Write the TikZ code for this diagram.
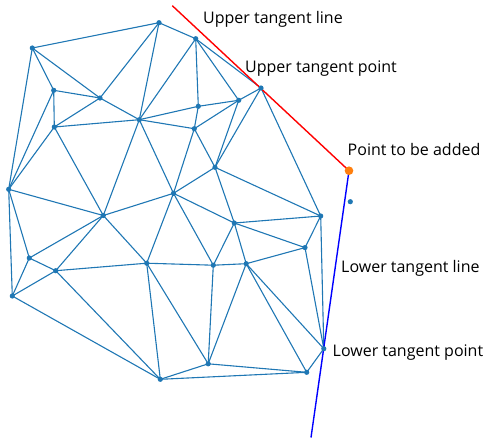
\documentclass[tikz,border=0pt]{standalone}
\usepackage{fontspec}
\setmainfont{Open Sans}
\usepackage{tikz}
\usetikzlibrary{positioning,calc}

\definecolor{meshblue}{HTML}{1F77B4}
\definecolor{addorange}{HTML}{FF7F0E}

\begin{document}
\begin{tikzpicture}[
        x=1pt, y=-1pt,
        font=\fontsize{16}{19}\selectfont,
        edge/.style={draw=meshblue, line width=1.1pt},
        tangent/.style={line width=1.4pt},
        label/.style={anchor=base west, inner sep=0pt}
    ]
        \useasboundingbox (0,0) rectangle (486,440);

        % mesh points
        \coordinate (a) at (159,22.7);
        \coordinate (b) at (32.3,48);
        \coordinate (c) at (195.7,38.7);
        \coordinate (d) at (53.7,90.3);
        \coordinate (e) at (100,98);
        \coordinate (f) at (54.3,127);
        \coordinate (g) at (139.3,119.7);
        \coordinate (h) at (198.3,106.3);
        \coordinate (i) at (238.7,100.3);
        \coordinate (j) at (194.3,128.7);
        \coordinate (k) at (8.7,189.3);
        \coordinate (l) at (215,167.3);
        \coordinate (m) at (173.5,193.3);
        \coordinate (n) at (103.3,215.5);
        \coordinate (up) at (261,88);
        \coordinate (s) at (320.7,216);
        \coordinate (t) at (234.3,223);
        \coordinate (u) at (29.3,258);
        \coordinate (v) at (55.7,270.7);
        \coordinate (w) at (146.7,263.2);
        \coordinate (x) at (213.3,265.2);
        \coordinate (y) at (246.2,263.7);
        \coordinate (z) at (12.3,296);
        \coordinate (o) at (305,247.6);
        \coordinate (low) at (323.8,348.7);
        \coordinate (aa) at (208.2,363.8);
        \coordinate (bb) at (160.3,379.3);
        \coordinate (cc) at (306.7,372.3);
        \coordinate (extra) at (350.3,201.7);
        \coordinate (new) at (349,170.7);
        \coordinate (upend) at (172.3,5.7);
        \coordinate (lowend) at (311,437.5);

        % triangulation
        \draw[edge] (a) -- (b); \draw[edge] (a) -- (c); \draw[edge] (a) -- (e); \draw[edge] (a) -- (g);
        \draw[edge] (b) -- (d); \draw[edge] (b) -- (e); \draw[edge] (b) -- (k);
        \draw[edge] (c) -- (g); \draw[edge] (c) -- (h); \draw[edge] (c) -- (i); \draw[edge] (c) -- (up);
        \draw[edge] (d) -- (e); \draw[edge] (d) -- (f); \draw[edge] (d) -- (k);
        \draw[edge] (e) -- (f); \draw[edge] (e) -- (g);
        \draw[edge] (f) -- (g); \draw[edge] (f) -- (k); \draw[edge] (f) -- (n);
        \draw[edge] (g) -- (h); \draw[edge] (g) -- (j); \draw[edge] (g) -- (n); \draw[edge] (g) -- (m);
        \draw[edge] (h) -- (i); \draw[edge] (h) -- (j);
        \draw[edge] (i) -- (j); \draw[edge] (i) -- (l); \draw[edge] (i) -- (up);
        \draw[edge] (j) -- (l); \draw[edge] (j) -- (m);
        \draw[edge] (up) -- (l); \draw[edge] (up) -- (s);
        \draw[edge] (l) -- (m); \draw[edge] (l) -- (s); \draw[edge] (l) -- (t);
        \draw[edge] (m) -- (n); \draw[edge] (m) -- (t); \draw[edge] (m) -- (w); \draw[edge] (m) -- (x);
        \draw[edge] (n) -- (k); \draw[edge] (n) -- (u); \draw[edge] (n) -- (v); \draw[edge] (n) -- (w);
        \draw[edge] (k) -- (u); \draw[edge] (k) -- (z);
        \draw[edge] (u) -- (v); \draw[edge] (u) -- (z);
        \draw[edge] (v) -- (z); \draw[edge] (v) -- (w); \draw[edge] (v) -- (bb);
        \draw[edge] (z) -- (bb);
        \draw[edge] (w) -- (x); \draw[edge] (w) -- (bb); \draw[edge] (w) -- (aa);
        \draw[edge] (x) -- (y); \draw[edge] (x) -- (t); \draw[edge] (x) -- (aa);
        \draw[edge] (t) -- (y); \draw[edge] (t) -- (s); \draw[edge] (t) -- (o);
        \draw[edge] (y) -- (o); \draw[edge] (y) -- (aa); \draw[edge] (y) -- (cc); \draw[edge] (y) -- (low);
        \draw[edge] (s) -- (o); \draw[edge] (s) -- (low);
        \draw[edge] (o) -- (low);
        \draw[edge] (low) -- (cc);
        \draw[edge] (aa) -- (cc); \draw[edge] (aa) -- (bb);
        \draw[edge] (bb) -- (cc);

        % tangent lines
        \draw[tangent, red] (upend) -- (new);
        \draw[tangent, blue] (new) -- (lowend);

        \foreach \p in {a,b,c,d,e,f,g,h,i,j,k,l,m,n,up,s,t,u,v,w,x,y,z,o,low,aa,bb,cc,extra}
            \fill[meshblue] (\p) circle (2.6);
        \fill[addorange] (new) circle (4.3);

        \node[label] (upline) at (203,23) {Upper tangent line};
        \node[label] (uplabel) at (245,72.5) {Upper tangent point};
        \node[label] (newlabel) at (347.5,155.3) {Point to be added};
        \node[label] (lowline) at (341,272) {Lower tangent line};
        \node[label] (lowlabel) at (332.5,356) {Lower tangent point};
    \end{tikzpicture}
\end{document}
